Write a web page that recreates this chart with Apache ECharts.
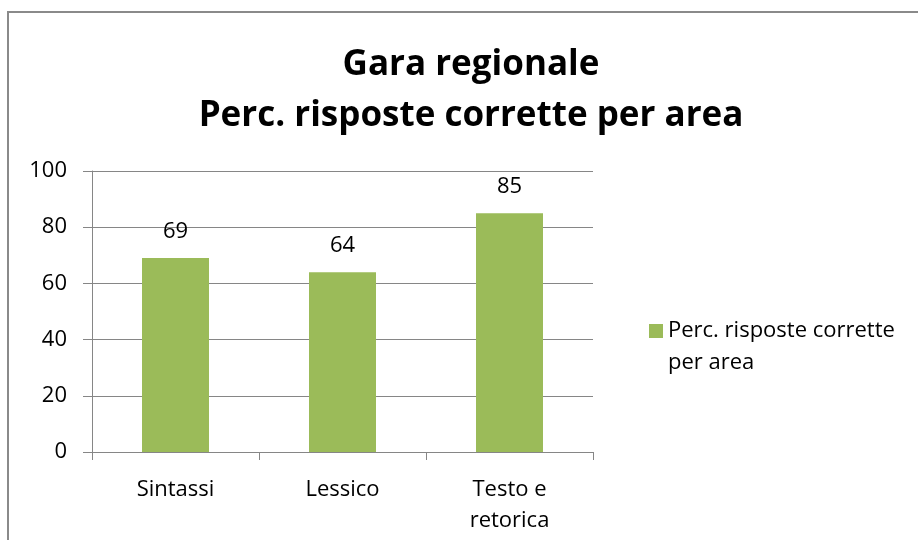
<!DOCTYPE html>
<html>
<head>
<meta charset="utf-8">
<script src="https://cdn.jsdelivr.net/npm/echarts@6/dist/echarts.min.js"></script>
<style>html,body{margin:0;padding:0;background:#fff}#c{width:918px;height:540px}</style>
</head>
<body>
<div id="c"></div>
<script>
const categories = ['Sintassi', 'Lessico', 'Testo e\nretorica'];
const values = [69, 64, 85];
const seriesName = 'Perc. risposte corrette per area';
const titleText = 'Gara regionale\nPerc. risposte corrette per area';
const yTicks = [0, 20, 40, 60, 80, 100];

const FONT = '"Open Sans"';
const chart = echarts.init(document.getElementById('c'), null, {renderer: 'canvas'});
chart.setOption({
  backgroundColor: '#ffffff',
  animation: false,
  graphic: [{
    type: 'rect', silent: true,
    shape: {x: 8, y: 12, width: 1000, height: 1000},
    style: {fill: 'none', stroke: '#8a8a8a', lineWidth: 2}
  }],
  title: {
    text: titleText,
    left: 466, top: 35, textAlign: 'center',
    textStyle: {fontFamily: FONT, fontWeight: 'bold', fontSize: 35, lineHeight: 51, color: '#000'}
  },
  legend: {
    left: 644, top: 278, orient: 'vertical',
    icon: 'rect', itemWidth: 14, itemHeight: 14,
    formatter: function () { return '\nPerc. risposte corrette\nper area'; },
    textStyle: {fontFamily: FONT, fontSize: 22, lineHeight: 32, color: '#000'}
  },
  grid: {left: 92, right: 325, top: 171, bottom: 88},
  xAxis: {
    type: 'category', data: categories,
    axisLine: {lineStyle: {color: '#868686', width: 1}},
    axisTick: {show: true, length: 8, lineStyle: {color: '#868686'}},
    axisLabel: {fontFamily: FONT, fontSize: 22, color: '#000', margin: 22, lineHeight: 31}
  },
  yAxis: {
    type: 'value', min: 0, max: 100, interval: 20,
    axisLine: {show: true, lineStyle: {color: '#868686', width: 1}},
    axisTick: {show: true, length: 9, lineStyle: {color: '#868686'}},
    splitLine: {lineStyle: {color: '#868686', width: 1}},
    axisLabel: {fontFamily: FONT, fontSize: 22, color: '#000', margin: 25,
      formatter: function (v) { return yTicks.indexOf(v) >= 0 ? String(v) : ''; }}
  },
  series: [{
    name: seriesName, type: 'bar', data: values,
    barWidth: 67,
    itemStyle: {color: '#9bbb59'},
    label: {show: true, position: 'top', distance: 15, fontFamily: FONT, fontSize: 22, color: '#000'}
  }]
});
</script>
</body>
</html>
